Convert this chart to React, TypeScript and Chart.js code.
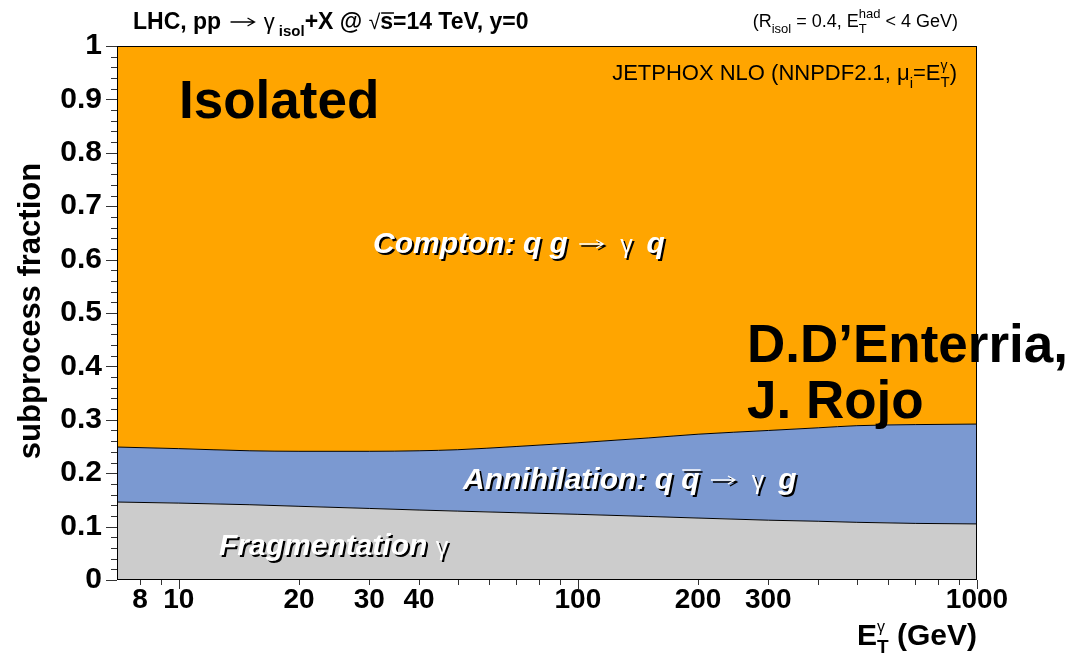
import { useEffect, useRef } from 'react';
import { Chart, registerables } from 'chart.js';
Chart.register(...registerables);

// Photon transverse energy (GeV)
const energies = [7, 10, 15, 20, 30, 40, 50, 70, 100, 150, 200, 300, 400, 500, 700, 1000];
// subprocess fractions (stacked)
const fragmentation = [0.146, 0.144, 0.141, 0.138, 0.134, 0.131, 0.129, 0.126, 0.123, 0.119, 0.116, 0.112, 0.110, 0.108, 0.106, 0.105];
const annihilation = [0.103, 0.102, 0.101, 0.103, 0.107, 0.111, 0.115, 0.124, 0.134, 0.147, 0.157, 0.168, 0.175, 0.181, 0.185, 0.187];
const compton = [0.751, 0.754, 0.758, 0.759, 0.759, 0.758, 0.756, 0.750, 0.743, 0.734, 0.727, 0.720, 0.715, 0.711, 0.709, 0.708];

const xTickLabels = [8, 10, 20, 30, 40, 100, 200, 300, 1000];
const xMinorTicks = [8, 9, 20, 30, 40, 50, 60, 70, 80, 90, 200, 300, 400, 500, 600, 700, 800, 900];
const xMajorTicks = [10, 100, 1000];

const ORANGE = '#ffa500';
const BLUE = '#7b99d1';
const GRAY = '#cccccc';
const FONT = '"Liberation Sans", Arial, Helvetica, sans-serif';

type Seg = {
  t?: string;
  f: string;
  dy?: number;
  over?: boolean;
  sup?: string;
  sub?: string;
  supDy?: number;
  subDy?: number;
  fsub?: string;
  arrow?: number;
  ah?: number;
};

function segWidth(ctx: CanvasRenderingContext2D, s: Seg) {
  if (s.arrow !== undefined) return s.arrow;
  if (s.sup !== undefined) {
    ctx.font = s.f;
    const a = ctx.measureText(s.sup).width;
    ctx.font = s.fsub || s.f;
    const b = ctx.measureText(s.sub || '').width;
    return Math.max(a, b);
  }
  ctx.font = s.f;
  return ctx.measureText(s.t || '').width;
}

function drawSegs(ctx: CanvasRenderingContext2D, segs: Seg[], x: number, y: number, color: string) {
  let cx = x;
  ctx.fillStyle = color;
  ctx.strokeStyle = color;
  ctx.textBaseline = 'alphabetic';
  ctx.textAlign = 'left';
  for (const s of segs) {
    const w = segWidth(ctx, s);
    if (s.arrow !== undefined) {
      const ay = y - (s.ah || 8);
      const x0 = cx + 3;
      const x1 = cx + w - 3;
      ctx.lineWidth = 1.3;
      ctx.beginPath();
      ctx.moveTo(x0, ay);
      ctx.lineTo(x1, ay);
      ctx.moveTo(x1 - 7, ay - 4);
      ctx.lineTo(x1, ay);
      ctx.lineTo(x1 - 7, ay + 4);
      ctx.stroke();
    } else if (s.sup !== undefined) {
      ctx.font = s.f;
      ctx.fillText(s.sup, cx, y + (s.supDy || 0));
      ctx.font = s.fsub || s.f;
      ctx.fillText(s.sub || '', cx, y + (s.subDy || 0));
    } else {
      ctx.font = s.f;
      ctx.fillText(s.t || '', cx, y + (s.dy || 0));
      if (s.over) {
        const m = ctx.measureText(s.t || '');
        const top = y + (s.dy || 0) - m.actualBoundingBoxAscent - 3;
        ctx.lineWidth = 1.5;
        ctx.beginPath();
        ctx.moveTo(cx + 1, top);
        ctx.lineTo(cx + w + 1, top);
        ctx.stroke();
      }
    }
    cx += w;
  }
}

function rich(
  ctx: CanvasRenderingContext2D,
  segs: Seg[],
  x: number,
  y: number,
  align: 'left' | 'right',
  color: string,
  shadow?: string
) {
  let total = 0;
  for (const s of segs) total += segWidth(ctx, s);
  const sx = align === 'right' ? x - total : x;
  if (shadow) drawSegs(ctx, segs, sx + 2, y + 2, shadow);
  drawSegs(ctx, segs, sx, y, color);
}

const decor = {
  id: 'decor',
  afterDraw(chart: any) {
    const { ctx, chartArea: a, scales } = chart;
    const xs = scales.x;
    const ys = scales.y;
    ctx.save();
    // frame
    ctx.strokeStyle = '#000';
    ctx.lineWidth = 1;
    ctx.strokeRect(a.left + 0.5, a.top + 0.5, a.right - a.left - 1, a.bottom - a.top - 1);
    // y ticks
    ctx.strokeStyle = '#333';
    for (let i = 0; i <= 50; i++) {
      const py = Math.round(ys.getPixelForValue(i / 50)) + 0.5;
      const len = i % 5 === 0 ? 11 : 6;
      ctx.beginPath();
      ctx.moveTo(a.left, py);
      ctx.lineTo(a.left - len, py);
      ctx.stroke();
    }
    // x ticks
    for (const v of xMinorTicks.concat(xMajorTicks)) {
      const px = Math.round(xs.getPixelForValue(v)) + 0.5;
      const len = xMajorTicks.includes(v) ? 9 : 5;
      ctx.beginPath();
      ctx.moveTo(px, a.bottom);
      ctx.lineTo(px, a.bottom + len);
      ctx.stroke();
    }

    const B = (n: number) => `bold ${n}px ${FONT}`;
    const N = (n: number) => `${n}px ${FONT}`;
    const BI = (n: number) => `italic bold ${n}px ${FONT}`;

    // header
    rich(ctx, [
      { t: 'LHC, pp ', f: B(23) },
      { arrow: 30, f: N(23), ah: 7 },
      { t: ' \u03b3', f: N(22) },
      { t: ' isol', f: B(15), dy: 7 },
      { t: '+X @ ', f: B(23) },
      { t: '\u221a', f: N(21) },
      { t: 's', f: B(23), over: true },
      { t: '=14 TeV, y=0', f: B(23) },
    ], 133, 29, 'left', '#000');

    rich(ctx, [
      { t: '(R', f: N(18) },
      { t: 'isol', f: N(13), dy: 6 },
      { t: ' = 0.4, E', f: N(18) },
      { sup: 'had', sub: 'T', f: N(13), supDy: -9, subDy: 6 },
      { t: ' < 4 GeV)', f: N(18) },
    ], 958, 27, 'right', '#000');

    rich(ctx, [
      { t: 'JETPHOX NLO (NNPDF2.1, ', f: N(22) },
      { t: '\u03bc', f: N(22) },
      { t: 'i', f: N(15), dy: 8 },
      { t: '=E', f: N(22) },
      { sup: '\u03b3', sub: 'T', f: N(14), fsub: N(15), supDy: -10, subDy: 7 },
      { t: ')', f: N(22) },
    ], 957, 80, 'right', '#000');

    // big labels
    rich(ctx, [{ t: 'Isolated', f: B(53) }], 179, 118, 'left', '#000');
    rich(ctx, [{ t: 'D.D\u2019Enterria,', f: B(53) }], 747, 362, 'left', '#000');
    rich(ctx, [{ t: 'J. Rojo', f: B(53) }], 747, 418, 'left', '#000');

    // process labels
    rich(ctx, [
      { t: 'Compton: q g ', f: BI(30) },
      { arrow: 30, f: N(30), ah: 9 },
      { t: '  \u03b3  ', f: N(25) },
      { t: 'q', f: BI(30) },
    ], 373, 253, 'left', '#fff', '#000');

    rich(ctx, [
      { t: 'Annihilation: q ', f: BI(30) },
      { t: 'q', f: BI(30), over: true },
      { t: ' ', f: BI(30) },
      { arrow: 30, f: N(30), ah: 9 },
      { t: '  \u03b3  ', f: N(25) },
      { t: 'g', f: BI(30) },
    ], 463, 489, 'left', '#fff', '#000');

    rich(ctx, [
      { t: 'Fragmentation ', f: BI(30) },
      { t: '\u03b3', f: N(25) },
    ], 219, 555, 'left', '#fff', '#000');

    // x axis title
    rich(ctx, [
      { t: 'E', f: B(30) },
      { sup: '\u03b3', sub: 'T', f: N(16), fsub: B(19), supDy: -13, subDy: 8 },
      { t: ' (GeV)', f: B(30) },
    ], 977, 645, 'right', '#000');

    // y axis title
    ctx.save();
    ctx.translate(40, 311);
    ctx.rotate(-Math.PI / 2);
    ctx.font = B(31);
    ctx.fillStyle = '#000';
    ctx.textAlign = 'center';
    ctx.textBaseline = 'alphabetic';
    ctx.fillText('subprocess fraction', 0, 0);
    ctx.restore();

    ctx.restore();
  },
};

export default function App() {
  const ref = useRef<HTMLCanvasElement>(null);
  useEffect(() => {
    document.body.style.margin = '0';
    const mk = (vals: number[]) => energies.map((e, i) => ({ x: e, y: vals[i] }));
    const common = {
      borderColor: '#000',
      borderWidth: 1,
      pointRadius: 0,
      cubicInterpolationMode: 'monotone' as const,
    };
    const chart = new Chart(ref.current!, {
      type: 'line',
      data: {
        datasets: [
          { ...common, label: 'Fragmentation', data: mk(fragmentation), backgroundColor: GRAY, fill: 'origin' },
          { ...common, label: 'Annihilation', data: mk(annihilation), backgroundColor: BLUE, fill: '-1' },
          { ...common, label: 'Compton', data: mk(compton), backgroundColor: ORANGE, fill: '-1' },
        ],
      },
      options: {
        responsive: false,
        animation: false,
        devicePixelRatio: 1,
        layout: { padding: { left: 0, right: 110, top: 46, bottom: 0 } },
        plugins: { legend: { display: false }, tooltip: { enabled: false } },
        scales: {
          x: {
            type: 'logarithmic',
            min: 7,
            max: 1000,
            grid: { display: false, drawTicks: false },
            border: { display: false },
            afterBuildTicks: (s: any) => {
              s.ticks = xTickLabels.map((v) => ({ value: v }));
            },
            afterFit: (s: any) => {
              s.height = 74;
            },
            ticks: {
              autoSkip: false,
              maxRotation: 0,
              minRotation: 0,
              padding: 3,
              color: '#000',
              font: { family: FONT, size: 28, weight: 'bold' },
              callback: (v: any) => String(v),
            },
          },
          y: {
            stacked: true,
            min: 0,
            max: 1,
            grid: { display: false, drawTicks: false },
            border: { display: false },
            afterFit: (s: any) => {
              s.width = 117;
            },
            ticks: {
              stepSize: 0.1,
              padding: 15,
              color: '#000',
              font: { family: FONT, size: 30, weight: 'bold' },
              callback: (v: any) => {
                const n = Number(v);
                if (Math.abs(n) < 1e-9) return '0';
                if (Math.abs(n - 1) < 1e-9) return '1';
                return n.toFixed(1);
              },
            },
          },
        },
      },
      plugins: [decor],
    });
    return () => chart.destroy();
  }, []);
  return (
    <div style={{ position: 'absolute', left: 0, top: 0, width: 1087, height: 654, background: '#fff' }}>
      <canvas ref={ref} width={1087} height={654} style={{ display: 'block' }} />
    </div>
  );
}
